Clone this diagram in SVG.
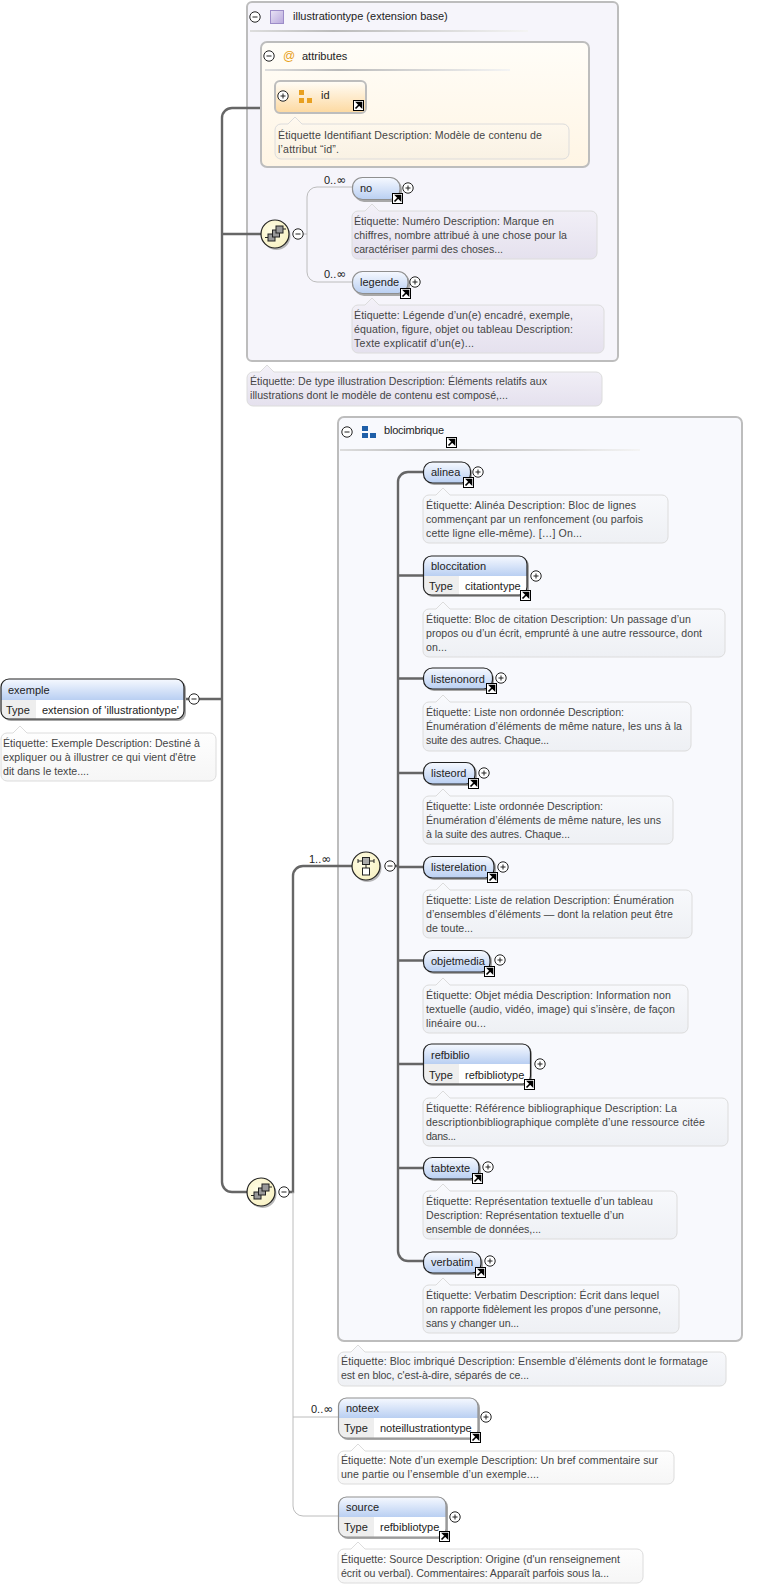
<svg xmlns="http://www.w3.org/2000/svg" width="760" height="1587" viewBox="0 0 760 1587">
<style>
text{font-family:"Liberation Sans",Arial,sans-serif;font-size:11px;fill:#222}
.n{fill:#444;font-size:10.6px}
.inf{font-family:"DejaVu Sans",sans-serif;font-size:12px}
.note{stroke:#dcdcdc;stroke-width:1}
.nw{fill:url(#gw)}.nv{fill:url(#gv)}.nb{fill:url(#gb)}.no{fill:url(#go)}
.box{stroke:#bdbdbd;stroke-width:2}
.sh{fill:#a8a8a8}
.hd{fill:url(#gh)}
.cell{fill:#eeeeee}
.bd{fill:none;stroke:#222;stroke-width:1.2}
.bg{fill:none;stroke:#8f8f8f;stroke-width:1.2}
.thick{fill:none;stroke:#666;stroke-width:2.4}
.thin{fill:none;stroke:#bcbcbc;stroke-width:1}
</style>
<defs>
<linearGradient id="gh" x1="0" y1="0" x2="0" y2="1"><stop offset="0" stop-color="#f6f9ff"/><stop offset="1" stop-color="#b9cff2"/></linearGradient>
<linearGradient id="gw" x1="0" y1="0" x2="0" y2="1"><stop offset="0" stop-color="#fff"/><stop offset="1" stop-color="#f6f6f6"/></linearGradient>
<linearGradient id="gv" x1="0" y1="0" x2="0" y2="1"><stop offset="0" stop-color="#f3f1f8"/><stop offset="1" stop-color="#e5e1ee"/></linearGradient>
<linearGradient id="gb" x1="0" y1="0" x2="0" y2="1"><stop offset="0" stop-color="#f9fafd"/><stop offset="1" stop-color="#eef0f4"/></linearGradient>
<linearGradient id="go" x1="0" y1="0" x2="0" y2="1"><stop offset="0" stop-color="#fff9ef"/><stop offset="1" stop-color="#f9f2e4"/></linearGradient>
<linearGradient id="gid" x1="0" y1="0" x2="0" y2="1"><stop offset="0" stop-color="#fffdf8"/><stop offset="1" stop-color="#fdd9a0"/></linearGradient>
<linearGradient id="gat" x1="0" y1="0" x2="0" y2="1"><stop offset="0" stop-color="#fffdf8"/><stop offset="1" stop-color="#fff5e4"/></linearGradient>
<linearGradient id="gsq" x1="0" y1="0" x2="1" y2="1"><stop offset="0" stop-color="#e9e3f5"/><stop offset="1" stop-color="#b8a8dc"/></linearGradient>
<linearGradient id="gr1" x1="0" x2="1" y1="0" y2="0"><stop offset="0" stop-color="#ddd"/><stop offset=".3" stop-color="#bbb"/><stop offset="1" stop-color="#f4f4f4"/></linearGradient>
<radialGradient id="gc" cx=".4" cy=".4" r=".7"><stop offset="0" stop-color="#fffde6"/><stop offset="1" stop-color="#f7f0c0"/></radialGradient>
<symbol id="plus" overflow="visible"><circle r="5.2" fill="#fff" stroke="#222"/><path d="M-2.5,0H2.5M0,-2.5V2.5" stroke="#222" fill="none"/></symbol>
<symbol id="minus" overflow="visible"><circle r="5.2" fill="#fff" stroke="#222"/><path d="M-2.5,0H2.5" stroke="#222" fill="none"/></symbol>
<symbol id="link" overflow="visible"><rect x=".5" y=".5" width="10" height="10" fill="#fff" stroke="#000"/><path d="M2.5,8.5L7,4M4,2.5H8.5V7z" stroke="#000" stroke-width="1.6" fill="#000"/></symbol>
<symbol id="choice" overflow="visible"><circle cx="1.5" cy="2" r="14" fill="#9a9a9a" opacity=".7"/><circle r="14" fill="url(#gc)" stroke="#222" stroke-width="1.2"/><path d="M-10,3.500H-6M8,-5H11" stroke="#222" fill="none"/><rect x="-7" y="0" width="7" height="7" fill="#999" stroke="#222"/><rect x="-2.500" y="-4" width="7" height="7" fill="#999" stroke="#222"/><rect x="1" y="-8" width="7" height="7" fill="#999" stroke="#222"/></symbol>
<symbol id="seq" overflow="visible"><circle cx="1.5" cy="2" r="14" fill="#9a9a9a" opacity=".7"/><circle r="14" fill="url(#gc)" stroke="#222" stroke-width="1.2"/><path d="M-8,-5H8M-8,-7V-3M8,-7V-3M0,-1V3" stroke="#222" fill="none"/><rect x="-3.500" y="-8.500" width="7" height="7" fill="#aaa" stroke="#222"/><rect x="-3.500" y="2" width="7" height="7" fill="#fff" stroke="#222"/></symbol>
</defs>
<rect width="760" height="1587" fill="#fff"/>

<g id="illustrationtype">
<rect class="box" x="247" y="2" width="371" height="359" rx="5" fill="#f6f5fb"/>
<use href="#minus" x="255" y="17"/>
<rect x="270.500" y="10.500" width="13" height="13" fill="url(#gsq)" stroke="#9c8cc8"/>
<text x="293" y="20">illustrationtype (extension base)</text>
<rect x="250" y="30" width="278" height="2" fill="url(#gr1)"/>
</g>

<g id="blocimbrique">
<rect class="box" x="338" y="417" width="404" height="924" rx="6" fill="#f8f9fd"/>
<use href="#minus" x="347" y="432"/>
<path d="M362,426h6v5h-6zM362,433h6v5h-6zM370,433h6v5h-6z" fill="#1f5fa8"/>
<text x="384" y="434" textLength="60">blocimbrique</text>
<use href="#link" x="446" y="437"/>
<rect x="340" y="449" width="300" height="2" fill="url(#gr1)"/>
<path class="note nb" d="M344,1352H351l7,-7l7,7H720a6,6 0 0 1 6,6V1380a6,6 0 0 1 -6,6H344a6,6 0 0 1 -6,-6V1358a6,6 0 0 1 6,-6z"/>
<text class="n" x="341" y="1365" textLength="367">Étiquette: Bloc imbriqué Description: Ensemble d’éléments dont le formatage</text>
<text class="n" x="341" y="1379" textLength="188">est en bloc, c'est-à-dire, séparés de ce...</text>
</g>

<g id="connectors">
<path class="thick" d="M184,699H222M261,108H232a10,10 0 0 0 -10,10V1182a10,10 0 0 0 10,10H247M222,234H261"/>
<path class="thin" d="M303,234H307M353,187H317a10,10 0 0 0 -10,10V272a10,10 0 0 0 10,10H353"/>
<path class="thick" d="M289,1192H293V876a10,10 0 0 1 10,-10H352"/>
<path class="thin" d="M293,1192V1506a10,10 0 0 0 10,10H338M293,1417H338"/>
<path class="thick" d="M395,866H398M423,472H408a10,10 0 0 0 -10,10V1251a10,10 0 0 0 10,10H423M398,575.500H423M398,678.500H423M398,773H423M398,867H423M398,960.500H423M398,1064H423M398,1168H423"/>
</g>

<g id="attributes">
<rect class="box" x="261" y="42" width="328" height="125" rx="6" fill="url(#gat)"/>
<use href="#minus" x="269" y="56"/>
<text x="283" y="60" style="fill:#e8a020;font-size:12px">@</text>
<text x="302" y="60">attributes</text>
<rect x="265" y="69" width="245" height="2" fill="url(#gr1)"/>
</g>

<g id="id">
<rect class="box" x="275" y="81" width="91" height="32" rx="5" fill="url(#gid)"/>
<use href="#plus" x="283" y="96"/>
<path d="M299,90h5v5h-5zM299,98h5v5h-5zM307,98h5v5h-5z" fill="#e8a020"/>
<text x="321" y="99">id</text>
<use href="#link" x="353" y="100"/>
<path class="note no" d="M281,124H288l7,-7l7,7H563a6,6 0 0 1 6,6V153a6,6 0 0 1 -6,6H281a6,6 0 0 1 -6,-6V130a6,6 0 0 1 6,-6z"/>
<text class="n" x="278" y="139" textLength="264">Étiquette Identifiant Description: Modèle de contenu de</text>
<text class="n" x="278" y="153" textLength="61">l’attribut “id”.</text>
</g>

<g id="choice1"><use href="#choice" x="275" y="234"/><use href="#minus" x="298" y="234"/></g>

<g id="no">
<text x="324" y="184">0..<tspan class="inf">∞</tspan></text>
<rect class="sh" x="354" y="179" width="48" height="23" rx="10"/>
<rect x="352.500" y="177.500" width="47.500" height="22" rx="10" class="hd"/>
<rect x="352.500" y="177.500" width="47.500" height="22" rx="10" class="bg"/>
<text x="360" y="192">no</text>
<use href="#link" x="392" y="193"/><use href="#plus" x="408" y="188"/>
<path class="note nv" d="M358,211H365l7,-7l7,7H591a6,6 0 0 1 6,6V253a6,6 0 0 1 -6,6H358a6,6 0 0 1 -6,-6V217a6,6 0 0 1 6,-6z"/>
<text class="n" x="354" y="225" textLength="200">Étiquette: Numéro Description: Marque en</text>
<text class="n" x="354" y="239" textLength="213">chiffres, nombre attribué à une chose pour la</text>
<text class="n" x="354" y="253" textLength="149">caractériser parmi des choses...</text>
</g>

<g id="legende">
<text x="324" y="278">0..<tspan class="inf">∞</tspan></text>
<rect class="sh" x="354" y="273" width="56" height="23" rx="10"/>
<rect x="352.500" y="271.500" width="55.500" height="22" rx="10" class="hd"/>
<rect x="352.500" y="271.500" width="55.500" height="22" rx="10" class="bg"/>
<text x="360" y="286">legende</text>
<use href="#link" x="400" y="288"/><use href="#plus" x="415" y="282"/>
<path class="note nv" d="M358,305H365l7,-7l7,7H598a6,6 0 0 1 6,6V347a6,6 0 0 1 -6,6H358a6,6 0 0 1 -6,-6V311a6,6 0 0 1 6,-6z"/>
<text class="n" x="354" y="319" textLength="219">Étiquette: Légende d’un(e) encadré, exemple,</text>
<text class="n" x="354" y="333" textLength="219">équation, figure, objet ou tableau Description:</text>
<text class="n" x="354" y="347" textLength="120">Texte explicatif d’un(e)...</text>
</g>

<g id="illustrationtype-note">
<path class="note nv" d="M253,372H260l7,-7l7,7H596a6,6 0 0 1 6,6V400a6,6 0 0 1 -6,6H253a6,6 0 0 1 -6,-6V378a6,6 0 0 1 6,-6z"/>
<text class="n" x="250" y="385" textLength="297">Étiquette: De type illustration Description: Éléments relatifs aux</text>
<text class="n" x="250" y="399" textLength="258">illustrations dont le modèle de contenu est composé,...</text>
</g>

<g id="exemple">
<rect class="sh" x="3" y="681" width="183" height="40" rx="8"/>
<rect x="1" y="679" width="183" height="40" rx="8" fill="#fff"/>
<path class="hd" d="M1,700V687a8,8 0 0 1 8,-8H176a8,8 0 0 1 8,8V700z"/>
<path class="cell" d="M1,700H36V719H9a8,8 0 0 1 -8,-8z"/>
<rect x="1" y="679" width="183" height="40" rx="8" class="bd"/>
<text x="8" y="694">exemple</text><text x="6" y="714">Type</text><text x="42" y="714">extension of 'illustrationtype'</text>
<use href="#minus" x="194" y="699"/>
<path class="note nw" d="M7,733H13l7,-7l7,7H210a6,6 0 0 1 6,6V775a6,6 0 0 1 -6,6H7a6,6 0 0 1 -6,-6V739a6,6 0 0 1 6,-6z"/>
<text class="n" x="3" y="747" textLength="197">Étiquette: Exemple Description: Destiné à</text>
<text class="n" x="3" y="761" textLength="193">expliquer ou à illustrer ce qui vient d'être</text>
<text class="n" x="3" y="775" textLength="86">dit dans le texte....</text>
</g>

<g id="choice2"><use href="#choice" x="261" y="1192"/><use href="#minus" x="284" y="1192"/></g>

<g id="seq1"><use href="#seq" x="366" y="866"/><use href="#minus" x="390" y="866"/><text x="309" y="863">1..<tspan class="inf">∞</tspan></text></g>

<g id="alinea">
<rect class="sh" x="425" y="464" width="47" height="21" rx="9"/>
<rect x="423.500" y="462" width="47" height="21" rx="9" class="hd"/>
<rect x="423.500" y="462" width="47" height="21" rx="9" class="bd"/>
<text x="431" y="476">alinea</text>
<use href="#link" x="463" y="477"/><use href="#plus" x="478" y="472"/>
<path class="note nb" d="M429,495H436l7,-7l7,7H662a6,6 0 0 1 6,6V537a6,6 0 0 1 -6,6H429a6,6 0 0 1 -6,-6V501a6,6 0 0 1 6,-6z"/>
<text class="n" x="426" y="509" textLength="210">Étiquette: Alinéa Description: Bloc de lignes</text>
<text class="n" x="426" y="523" textLength="217">commençant par un renfoncement (ou parfois</text>
<text class="n" x="426" y="537" textLength="156">cette ligne elle-même). […] On...</text>
</g>

<g id="bloccitation">
<rect class="sh" x="425" y="558" width="104" height="39" rx="8"/>
<rect x="423.500" y="556" width="103.500" height="39" rx="8" fill="#fff"/>
<path class="hd" d="M423.500,576V564a8,8 0 0 1 8,-8H519a8,8 0 0 1 8,8V576z"/>
<path class="cell" d="M423.500,576H459V595H431.500a8,8 0 0 1 -8,-8z"/>
<rect x="423.500" y="556" width="103.500" height="39" rx="8" class="bd"/>
<text x="431" y="570">bloccitation</text><text x="429" y="590">Type</text><text x="465" y="590">citationtype</text>
<use href="#link" x="520" y="590"/><use href="#plus" x="536" y="576"/>
<path class="note nb" d="M429,609H436l7,-7l7,7H719a6,6 0 0 1 6,6V651a6,6 0 0 1 -6,6H429a6,6 0 0 1 -6,-6V615a6,6 0 0 1 6,-6z"/>
<text class="n" x="426" y="623" textLength="265">Étiquette: Bloc de citation Description: Un passage d’un</text>
<text class="n" x="426" y="637" textLength="276">propos ou d’un écrit, emprunté à une autre ressource, dont</text>
<text class="n" x="426" y="651" textLength="21">on...</text>
</g>

<g id="listenonord">
<rect class="sh" x="425" y="670" width="69" height="21" rx="9"/>
<rect x="423.500" y="668" width="69" height="21" rx="9" class="hd"/>
<rect x="423.500" y="668" width="69" height="21" rx="9" class="bd"/>
<text x="431" y="683">listenonord</text>
<use href="#link" x="486" y="683"/><use href="#plus" x="501" y="678"/>
<path class="note nb" d="M429,702H436l7,-7l7,7H685a6,6 0 0 1 6,6V745a6,6 0 0 1 -6,6H429a6,6 0 0 1 -6,-6V708a6,6 0 0 1 6,-6z"/>
<text class="n" x="426" y="716" textLength="198">Étiquette: Liste non ordonnée Description:</text>
<text class="n" x="426" y="730" textLength="256">Énumération d’éléments de même nature, les uns à la</text>
<text class="n" x="426" y="744" textLength="123">suite des autres. Chaque...</text>
</g>

<g id="listeord">
<rect class="sh" x="425" y="764" width="52" height="22" rx="9"/>
<rect x="423.500" y="762.500" width="51.500" height="21.500" rx="9" class="hd"/>
<rect x="423.500" y="762.500" width="51.500" height="21.500" rx="9" class="bd"/>
<text x="431" y="777">listeord</text>
<use href="#link" x="468" y="778"/><use href="#plus" x="484" y="773"/>
<path class="note nb" d="M429,796H436l7,-7l7,7H667a6,6 0 0 1 6,6V838a6,6 0 0 1 -6,6H429a6,6 0 0 1 -6,-6V802a6,6 0 0 1 6,-6z"/>
<text class="n" x="426" y="810" textLength="177">Étiquette: Liste ordonnée Description:</text>
<text class="n" x="426" y="824" textLength="235">Énumération d’éléments de même nature, les uns</text>
<text class="n" x="426" y="838" textLength="144">à la suite des autres. Chaque...</text>
</g>

<g id="listerelation">
<rect class="sh" x="425" y="858" width="71" height="22" rx="9"/>
<rect x="423.500" y="856.500" width="70.500" height="21.500" rx="9" class="hd"/>
<rect x="423.500" y="856.500" width="70.500" height="21.500" rx="9" class="bd"/>
<text x="431" y="871">listerelation</text>
<use href="#link" x="487" y="872"/><use href="#plus" x="503" y="867"/>
<path class="note nb" d="M429,890H436l7,-7l7,7H686a6,6 0 0 1 6,6V932a6,6 0 0 1 -6,6H429a6,6 0 0 1 -6,-6V896a6,6 0 0 1 6,-6z"/>
<text class="n" x="426" y="904" textLength="248">Étiquette: Liste de relation Description: Énumération</text>
<text class="n" x="426" y="918" textLength="247">d’ensembles d’éléments — dont la relation peut être</text>
<text class="n" x="426" y="932" textLength="47">de toute...</text>
</g>

<g id="objetmedia">
<rect class="sh" x="425" y="952" width="67" height="22" rx="9"/>
<rect x="423.500" y="950.500" width="66.500" height="21.500" rx="9" class="hd"/>
<rect x="423.500" y="950.500" width="66.500" height="21.500" rx="9" class="bd"/>
<text x="431" y="965">objetmedia</text>
<use href="#link" x="484" y="966"/><use href="#plus" x="500" y="960"/>
<path class="note nb" d="M429,985H436l7,-7l7,7H682a6,6 0 0 1 6,6V1027a6,6 0 0 1 -6,6H429a6,6 0 0 1 -6,-6V991a6,6 0 0 1 6,-6z"/>
<text class="n" x="426" y="999" textLength="245">Étiquette: Objet média Description: Information non</text>
<text class="n" x="426" y="1013" textLength="249">textuelle (audio, vidéo, image) qui s’insère, de façon</text>
<text class="n" x="426" y="1027" textLength="60">linéaire ou...</text>
</g>

<g id="refbiblio">
<rect class="sh" x="425" y="1046" width="107" height="40" rx="8"/>
<rect x="423.500" y="1044" width="107" height="40" rx="8" fill="#fff"/>
<path class="hd" d="M423.500,1064V1052a8,8 0 0 1 8,-8H522.500a8,8 0 0 1 8,8V1064z"/>
<path class="cell" d="M423.500,1064H459V1084H431.500a8,8 0 0 1 -8,-8z"/>
<rect x="423.500" y="1044" width="107" height="40" rx="8" class="bd"/>
<text x="431" y="1059">refbiblio</text><text x="429" y="1079">Type</text><text x="465" y="1079">refbibliotype</text>
<use href="#link" x="524" y="1079"/><use href="#plus" x="540" y="1064"/>
<path class="note nb" d="M429,1098H436l7,-7l7,7H722a6,6 0 0 1 6,6V1140a6,6 0 0 1 -6,6H429a6,6 0 0 1 -6,-6V1104a6,6 0 0 1 6,-6z"/>
<text class="n" x="426" y="1112" textLength="251">Étiquette: Référence bibliographique Description: La</text>
<text class="n" x="426" y="1126" textLength="279">descriptionbibliographique complète d’une ressource citée</text>
<text class="n" x="426" y="1140" textLength="30">dans...</text>
</g>

<g id="tabtexte">
<rect class="sh" x="425" y="1159" width="56" height="22" rx="9"/>
<rect x="423.500" y="1157.500" width="55.500" height="21.500" rx="9" class="hd"/>
<rect x="423.500" y="1157.500" width="55.500" height="21.500" rx="9" class="bd"/>
<text x="431" y="1172">tabtexte</text>
<use href="#link" x="472" y="1173"/><use href="#plus" x="488" y="1167"/>
<path class="note nb" d="M429,1191H436l7,-7l7,7H671a6,6 0 0 1 6,6V1233a6,6 0 0 1 -6,6H429a6,6 0 0 1 -6,-6V1197a6,6 0 0 1 6,-6z"/>
<text class="n" x="426" y="1205" textLength="227">Étiquette: Représentation textuelle d’un tableau</text>
<text class="n" x="426" y="1219" textLength="198">Description: Représentation textuelle d’un</text>
<text class="n" x="426" y="1233" textLength="115">ensemble de données,...</text>
</g>

<g id="verbatim">
<rect class="sh" x="425" y="1254" width="58" height="21" rx="9"/>
<rect x="423.500" y="1252" width="57.500" height="21" rx="9" class="hd"/>
<rect x="423.500" y="1252" width="57.500" height="21" rx="9" class="bd"/>
<text x="431" y="1266">verbatim</text>
<use href="#link" x="475" y="1267"/><use href="#plus" x="490" y="1261"/>
<path class="note nb" d="M429,1285H436l7,-7l7,7H673a6,6 0 0 1 6,6V1327a6,6 0 0 1 -6,6H429a6,6 0 0 1 -6,-6V1291a6,6 0 0 1 6,-6z"/>
<text class="n" x="426" y="1299" textLength="233">Étiquette: Verbatim Description: Écrit dans lequel</text>
<text class="n" x="426" y="1313" textLength="235">on rapporte fidèlement les propos d’une personne,</text>
<text class="n" x="426" y="1327" textLength="93">sans y changer un...</text>
</g>

<g id="noteex">
<text x="311" y="1413">0..<tspan class="inf">∞</tspan></text>
<rect class="sh" x="340" y="1400" width="140" height="40" rx="8"/>
<rect x="338.500" y="1398" width="139.500" height="40" rx="8" fill="#fff"/>
<path class="hd" d="M338.500,1418V1406a8,8 0 0 1 8,-8H470a8,8 0 0 1 8,8V1418z"/>
<path class="cell" d="M338.500,1418H374V1438H346.500a8,8 0 0 1 -8,-8z"/>
<rect x="338.500" y="1398" width="139.500" height="40" rx="8" class="bg"/>
<text x="346" y="1412">noteex</text><text x="344" y="1432">Type</text><text x="380" y="1432">noteillustrationtype</text>
<use href="#link" x="470" y="1432"/><use href="#plus" x="486" y="1417"/>
<path class="note nw" d="M344,1451H351l7,-7l7,7H668a6,6 0 0 1 6,6V1478a6,6 0 0 1 -6,6H344a6,6 0 0 1 -6,-6V1457a6,6 0 0 1 6,-6z"/>
<text class="n" x="341" y="1464" textLength="317">Étiquette: Note d’un exemple Description: Un bref commentaire sur</text>
<text class="n" x="341" y="1478" textLength="198">une partie ou l’ensemble d’un exemple....</text>
</g>

<g id="source">
<rect class="sh" x="340" y="1499" width="108" height="40" rx="8"/>
<rect x="338.500" y="1497" width="107.500" height="40" rx="8" fill="#fff"/>
<path class="hd" d="M338.500,1517V1505a8,8 0 0 1 8,-8H438a8,8 0 0 1 8,8V1517z"/>
<path class="cell" d="M338.500,1517H374V1537H346.500a8,8 0 0 1 -8,-8z"/>
<rect x="338.500" y="1497" width="107.500" height="40" rx="8" class="bg"/>
<text x="346" y="1511">source</text><text x="344" y="1531">Type</text><text x="380" y="1531">refbibliotype</text>
<use href="#link" x="439" y="1531"/><use href="#plus" x="455" y="1517"/>
<path class="note nw" d="M344,1549H351l7,-7l7,7H637a6,6 0 0 1 6,6V1577a6,6 0 0 1 -6,6H344a6,6 0 0 1 -6,-6V1555a6,6 0 0 1 6,-6z"/>
<text class="n" x="341" y="1563" textLength="279">Étiquette: Source Description: Origine (d'un renseignement</text>
<text class="n" x="341" y="1577" textLength="268">écrit ou verbal). Commentaires: Apparaît parfois sous la...</text>
</g>
</svg>
